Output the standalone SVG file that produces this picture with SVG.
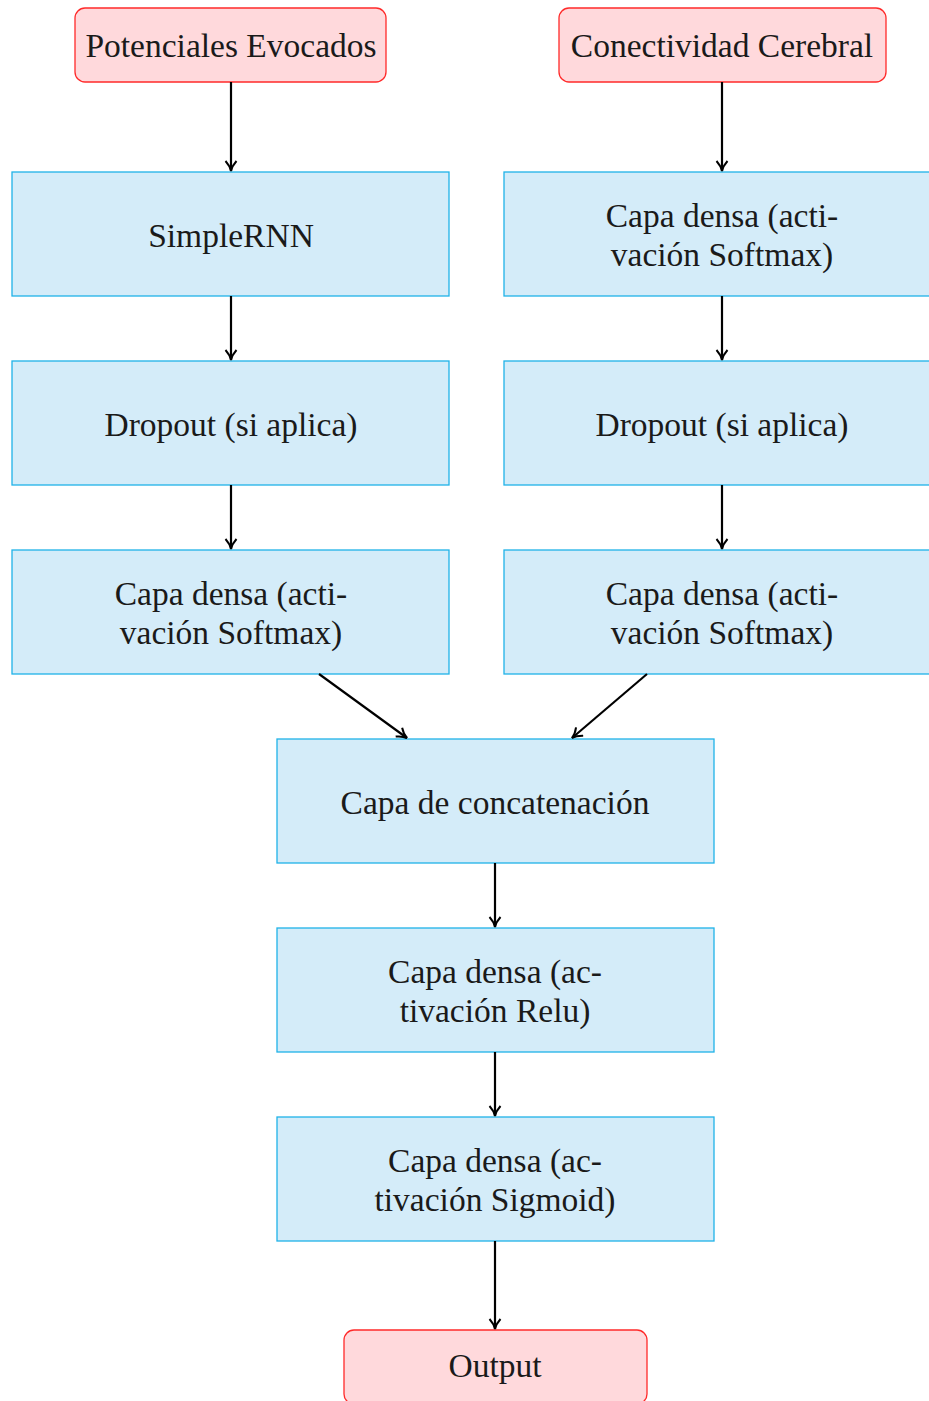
<svg xmlns="http://www.w3.org/2000/svg" width="929" height="1401" viewBox="0 0 929 1401">
<style>
.io{fill:#ffd9dc;stroke:#ff2a2a;stroke-width:1.3}
.ly{fill:#d4ecf9;stroke:#1fb3e8;stroke-width:1.3}
text{font-family:"Liberation Serif","DejaVu Serif",serif;font-size:33.5px;fill:#1a1a1a;text-anchor:middle}
.c{stroke:#000;stroke-width:2.2;fill:none;marker-end:url(#ah)}
</style>
<defs>
<marker id="ah" markerWidth="16" markerHeight="16" refX="11" refY="7" orient="auto" markerUnits="userSpaceOnUse">
<path d="M1,1.5 Q6,6 11,7 Q6,8 1,12.5" fill="none" stroke="#000" stroke-width="2"/>
</marker>
</defs>
<rect width="929" height="1401" fill="#fff"/>
<g id="n-pot"><rect class="io" x="75" y="8" width="311" height="74" rx="10"/><text x="231" y="57">Potenciales Evocados</text></g>
<g id="n-con"><rect class="io" x="559" y="8" width="327" height="74" rx="10"/><text x="722" y="57">Conectividad Cerebral</text></g>
<g id="n-rnn"><rect class="ly" x="12" y="172" width="437" height="124"/><text x="231" y="247">SimpleRNN</text></g>
<g id="n-d1r"><rect class="ly" x="504" y="172" width="437" height="124"/><text x="722" y="227">Capa densa (acti-</text><text x="722" y="266">vación Softmax)</text></g>
<g id="n-dol"><rect class="ly" x="12" y="361" width="437" height="124"/><text x="231" y="436">Dropout (si aplica)</text></g>
<g id="n-dor"><rect class="ly" x="504" y="361" width="437" height="124"/><text x="722" y="436">Dropout (si aplica)</text></g>
<g id="n-d2l"><rect class="ly" x="12" y="550" width="437" height="124"/><text x="231" y="605">Capa densa (acti-</text><text x="231" y="644">vación Softmax)</text></g>
<g id="n-d2r"><rect class="ly" x="504" y="550" width="437" height="124"/><text x="722" y="605">Capa densa (acti-</text><text x="722" y="644">vación Softmax)</text></g>
<g id="n-cat"><rect class="ly" x="277" y="739" width="437" height="124"/><text x="495" y="814">Capa de concatenación</text></g>
<g id="n-relu"><rect class="ly" x="277" y="928" width="437" height="124"/><text x="495" y="983">Capa densa (ac-</text><text x="495" y="1022">tivación Relu)</text></g>
<g id="n-sig"><rect class="ly" x="277" y="1117" width="437" height="124"/><text x="495" y="1172">Capa densa (ac-</text><text x="495" y="1211">tivación Sigmoid)</text></g>
<g id="n-out"><rect class="io" x="344" y="1330" width="303" height="74" rx="10"/><text x="495" y="1377">Output</text></g>
<g id="connectors">
<path class="c" d="M231,82 V171"/>
<path class="c" d="M722,82 V171"/>
<path class="c" d="M231,296 V360"/>
<path class="c" d="M722,296 V360"/>
<path class="c" d="M231,485 V549"/>
<path class="c" d="M722,485 V549"/>
<path class="c" d="M319,674 L407,738"/>
<path class="c" d="M647,674 L572,738"/>
<path class="c" d="M495,863 V927"/>
<path class="c" d="M495,1052 V1116"/>
<path class="c" d="M495,1241 V1329"/>
</g>
</svg>
